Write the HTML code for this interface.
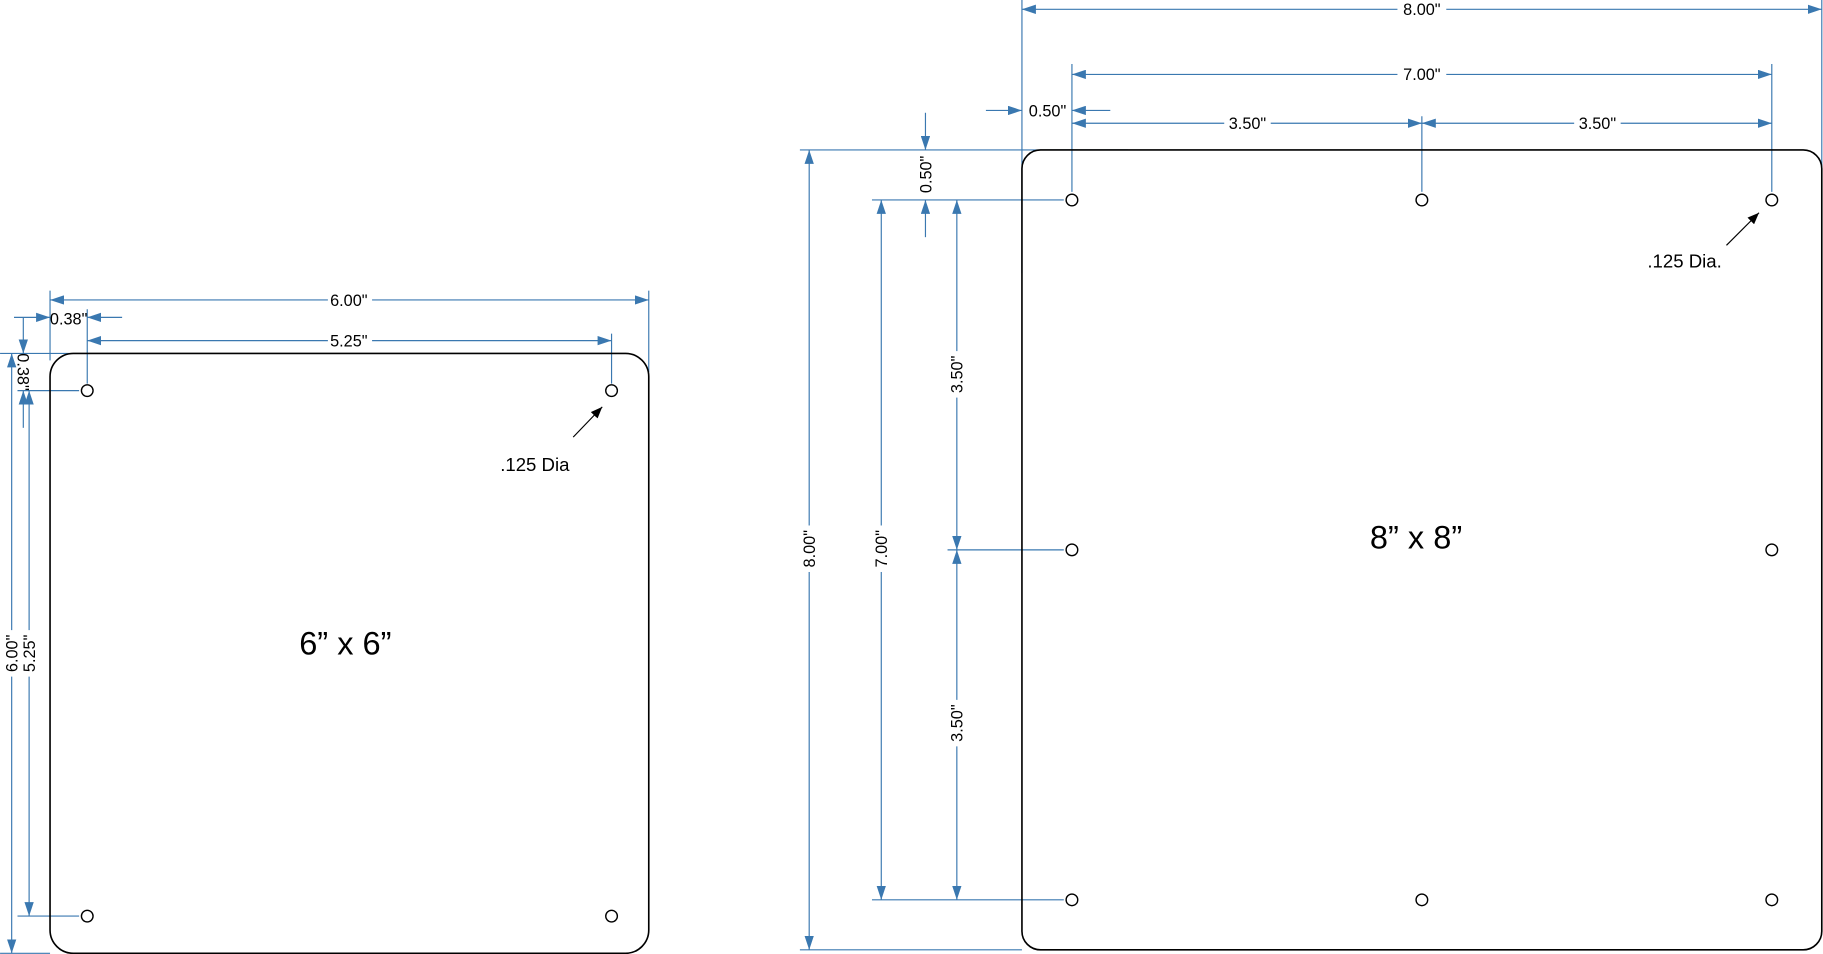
<!DOCTYPE html>
<html><head><meta charset="utf-8"><style>
html,body{margin:0;padding:0;background:#fff;}
svg{display:block;}
text{font-family:"Liberation Sans",sans-serif;}
</style></head><body>
<svg width="1823" height="954" viewBox="0 0 1568 820.6" xmlns="http://www.w3.org/2000/svg">
<defs>
<marker id="a" viewBox="0 0 12 8" refX="12" refY="4" markerWidth="12" markerHeight="8" markerUnits="userSpaceOnUse" orient="auto-start-reverse"><path d="M0,0L12,4L0,8z" fill="#3a78b0"/></marker>
<marker id="k" viewBox="0 0 10 8" refX="10" refY="4" markerWidth="10" markerHeight="8" markerUnits="userSpaceOnUse" orient="auto"><path d="M0,0L10,4L0,8z" fill="#000"/></marker>
</defs>
<g stroke="#3a78b0" stroke-width="1" fill="none">
<!-- left extension lines -->
<line x1="43" y1="250" x2="43" y2="310"/>
<line x1="558" y1="250" x2="558" y2="320"/>
<line x1="75" y1="266" x2="75" y2="330"/>
<line x1="526" y1="287" x2="526" y2="330"/>
<line x1="0" y1="304" x2="60" y2="304"/>
<line x1="15" y1="336" x2="68" y2="336"/>
<line x1="15" y1="788" x2="68" y2="788"/>
<line x1="0" y1="820" x2="43" y2="820"/>
<!-- left dims -->
<line x1="43" y1="258" x2="558" y2="258" marker-start="url(#a)" marker-end="url(#a)"/>
<line x1="12" y1="273" x2="43" y2="273" marker-end="url(#a)"/>
<line x1="105" y1="273" x2="75" y2="273" marker-end="url(#a)"/>
<line x1="75" y1="293" x2="526" y2="293" marker-start="url(#a)" marker-end="url(#a)"/>
<line x1="20" y1="273" x2="20" y2="304" marker-end="url(#a)"/>
<line x1="20" y1="368" x2="20" y2="336" marker-end="url(#a)"/>
<line x1="10" y1="304" x2="10" y2="820" marker-start="url(#a)" marker-end="url(#a)"/>
<line x1="25" y1="336" x2="25" y2="788" marker-start="url(#a)" marker-end="url(#a)"/>
<!-- right extension lines -->
<line x1="879" y1="0" x2="879" y2="235"/>
<line x1="1567" y1="0" x2="1567" y2="235"/>
<line x1="922" y1="55" x2="922" y2="165"/>
<line x1="1524" y1="55" x2="1524" y2="165"/>
<line x1="1223" y1="100" x2="1223" y2="165"/>
<line x1="688" y1="129" x2="970" y2="129"/>
<line x1="750" y1="172" x2="915" y2="172"/>
<line x1="815" y1="473" x2="915" y2="473"/>
<line x1="750" y1="774" x2="915" y2="774"/>
<line x1="688" y1="817" x2="879" y2="817"/>
<!-- right dims -->
<line x1="879" y1="8" x2="1567" y2="8" marker-start="url(#a)" marker-end="url(#a)"/>
<line x1="922" y1="64" x2="1524" y2="64" marker-start="url(#a)" marker-end="url(#a)"/>
<line x1="848" y1="95" x2="879" y2="95" marker-end="url(#a)"/>
<line x1="955" y1="95" x2="922" y2="95" marker-end="url(#a)"/>
<line x1="922" y1="106" x2="1223" y2="106" marker-start="url(#a)" marker-end="url(#a)"/>
<line x1="1223" y1="106" x2="1524" y2="106" marker-start="url(#a)" marker-end="url(#a)"/>
<line x1="696" y1="129" x2="696" y2="817" marker-start="url(#a)" marker-end="url(#a)"/>
<line x1="796" y1="97" x2="796" y2="129" marker-end="url(#a)"/>
<line x1="796" y1="204" x2="796" y2="172" marker-end="url(#a)"/>
<line x1="758" y1="172" x2="758" y2="774" marker-start="url(#a)" marker-end="url(#a)"/>
<line x1="823" y1="172" x2="823" y2="473" marker-start="url(#a)" marker-end="url(#a)"/>
<line x1="823" y1="473" x2="823" y2="774" marker-start="url(#a)" marker-end="url(#a)"/>
</g>
<!-- plates -->
<g stroke="#000" stroke-width="1.4" fill="none">
<rect x="43" y="304" width="515" height="516" rx="20"/>
<rect x="879" y="129" width="688" height="688" rx="16"/>
</g>
<g stroke="#000" stroke-width="1.2" fill="#fff">
<circle cx="75" cy="336" r="5"/><circle cx="526" cy="336" r="5"/>
<circle cx="75" cy="788" r="5"/><circle cx="526" cy="788" r="5"/>
<circle cx="922" cy="172" r="5"/><circle cx="1223" cy="172" r="5"/><circle cx="1524" cy="172" r="5"/>
<circle cx="922" cy="473" r="5"/><circle cx="1524" cy="473" r="5"/>
<circle cx="922" cy="774" r="5"/><circle cx="1223" cy="774" r="5"/><circle cx="1524" cy="774" r="5"/>
</g>
<line x1="493" y1="376" x2="518" y2="350" stroke="#000" stroke-width="1" marker-end="url(#k)"/>
<line x1="1485" y1="211" x2="1513" y2="183" stroke="#000" stroke-width="1" marker-end="url(#k)"/>
<!-- labels -->
<g font-size="14" text-anchor="middle" fill="#000">
<g fill="#000">
<rect x="282" y="250" width="38" height="16" fill="#fff"/>
<text x="300" y="263">6.00"</text>
<text x="59" y="279">0.38"</text>
<rect x="282" y="285" width="38" height="16" fill="#fff"/>
<text x="300" y="298">5.25"</text>
<rect x="1202" y="0" width="42" height="16" fill="#fff"/>
<text x="1223" y="13">8.00"</text>
<rect x="1202" y="56" width="42" height="16" fill="#fff"/>
<text x="1223" y="69">7.00"</text>
<text x="901" y="100">0.50"</text>
<rect x="1053" y="98" width="40" height="16" fill="#fff"/>
<text x="1073" y="111">3.50"</text>
<rect x="1354" y="98" width="40" height="16" fill="#fff"/>
<text x="1374" y="111">3.50"</text>
</g>
<g>
<rect x="2" y="542" width="32" height="40" fill="#fff"/>
<text transform="translate(15,562) rotate(-90)">6.00"</text>
<text transform="translate(30,562) rotate(-90)">5.25"</text>
<text transform="translate(15,320) rotate(90)">0.38"</text>
<rect x="688" y="452" width="16" height="40" fill="#fff"/>
<text transform="translate(701,472) rotate(-90)">8.00"</text>
<rect x="750" y="452" width="16" height="40" fill="#fff"/>
<text transform="translate(763,472) rotate(-90)">7.00"</text>
<rect x="815" y="302" width="16" height="40" fill="#fff"/>
<text transform="translate(828,322) rotate(-90)">3.50"</text>
<rect x="815" y="602" width="16" height="40" fill="#fff"/>
<text transform="translate(828,622) rotate(-90)">3.50"</text>
<text transform="translate(801,150) rotate(-90)">0.50"</text>
</g>
<text x="460" y="405" font-size="16">.125 Dia</text>
<text x="1449" y="230" font-size="16">.125 Dia.</text>
<text x="297" y="563" font-size="28">6” x 6”</text>
<text x="1218" y="472" font-size="28">8” x 8”</text>
</g>
</svg>
</body></html>
